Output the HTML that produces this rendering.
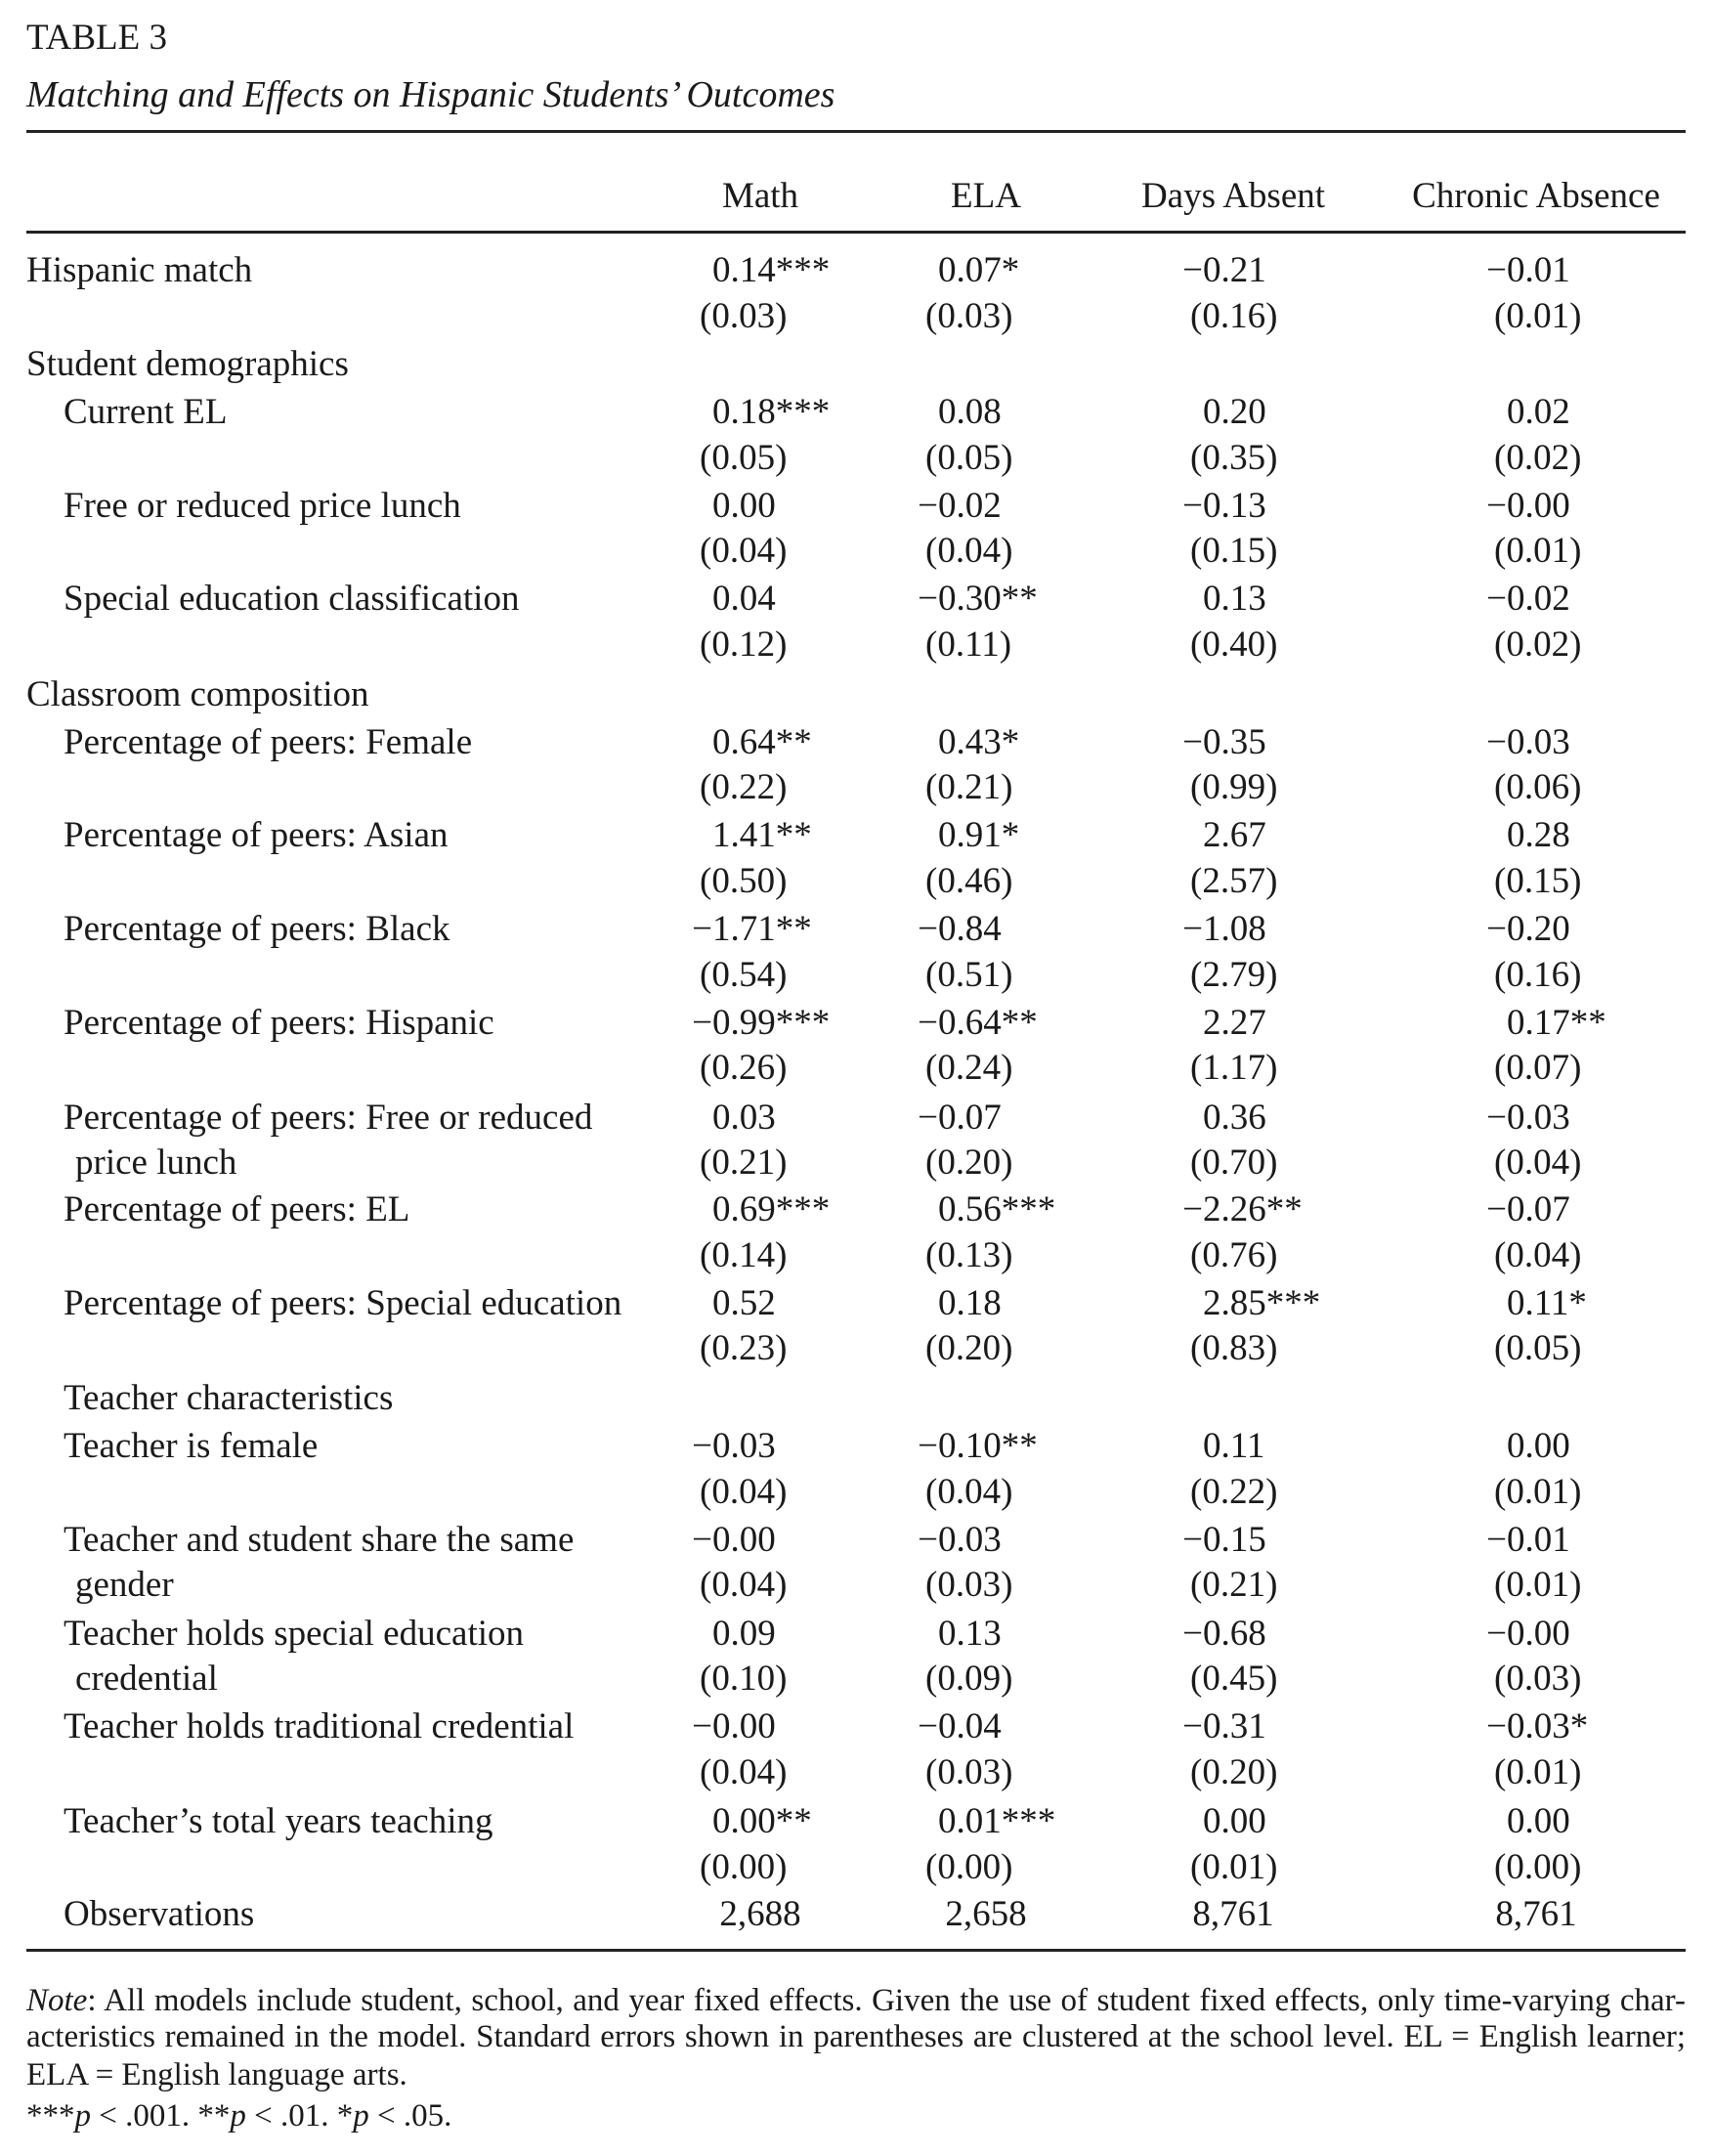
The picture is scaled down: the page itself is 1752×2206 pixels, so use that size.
<!DOCTYPE html>
<html><head><meta charset="utf-8"><style>
body{margin:0;background:#fff;}
#pg{position:relative;width:1752px;height:2206px;overflow:hidden;font-family:"Liberation Serif","Times New Roman",serif;font-size:37px;color:#1a1a1a;}
#pg div{position:absolute;line-height:48px;white-space:nowrap;}
.r{left:27px;width:1698px;height:3px;background:#222;}
.l{left:27px}.i{left:65px}.i2{left:77px}
.c1{left:729px}.c2{left:960px}.c3{left:1231px}.c4{left:1542px}
.p1{left:716px}.p2{left:947px}.p3{left:1218px}.p4{left:1529px}
.m{position:absolute;right:100%;font-style:normal}
.h{text-align:center;width:400px}
.note{left:27px;width:1698px;text-align:justify;text-align-last:justify;font-size:33px}
</style></head><body><div id="pg">
<div class="l" style="top:15px">TABLE 3</div>
<div class="l" style="top:73px;font-style:italic;font-size:38px">Matching and Effects on Hispanic Students’ Outcomes</div>
<div class="r" style="top:133px"></div>
<div class="h" style="left:578px;top:177px">Math</div>
<div class="h" style="left:809px;top:177px">ELA</div>
<div class="h" style="left:1062px;top:177px">Days Absent</div>
<div class="h" style="left:1372px;top:177px">Chronic Absence</div>
<div class="r" style="top:236px"></div>

<div class="l" style="top:253px">Hispanic match</div>
<div class="c1" style="top:253px">0.14***</div><div class="c2" style="top:253px">0.07*</div><div class="c3" style="top:253px"><i class="m">−</i>0.21</div><div class="c4" style="top:253px"><i class="m">−</i>0.01</div>
<div class="p1" style="top:300px">(0.03)</div><div class="p2" style="top:300px">(0.03)</div><div class="p3" style="top:300px">(0.16)</div><div class="p4" style="top:300px">(0.01)</div>

<div class="l" style="top:349px">Student demographics</div>

<div class="i" style="top:398px">Current EL</div>
<div class="c1" style="top:398px">0.18***</div><div class="c2" style="top:398px">0.08</div><div class="c3" style="top:398px">0.20</div><div class="c4" style="top:398px">0.02</div>
<div class="p1" style="top:445px">(0.05)</div><div class="p2" style="top:445px">(0.05)</div><div class="p3" style="top:445px">(0.35)</div><div class="p4" style="top:445px">(0.02)</div>

<div class="i" style="top:494px">Free or reduced price lunch</div>
<div class="c1" style="top:494px">0.00</div><div class="c2" style="top:494px"><i class="m">−</i>0.02</div><div class="c3" style="top:494px"><i class="m">−</i>0.13</div><div class="c4" style="top:494px"><i class="m">−</i>0.00</div>
<div class="p1" style="top:540px">(0.04)</div><div class="p2" style="top:540px">(0.04)</div><div class="p3" style="top:540px">(0.15)</div><div class="p4" style="top:540px">(0.01)</div>

<div class="i" style="top:589px">Special education classification</div>
<div class="c1" style="top:589px">0.04</div><div class="c2" style="top:589px"><i class="m">−</i>0.30**</div><div class="c3" style="top:589px">0.13</div><div class="c4" style="top:589px"><i class="m">−</i>0.02</div>
<div class="p1" style="top:636px">(0.12)</div><div class="p2" style="top:636px">(0.11)</div><div class="p3" style="top:636px">(0.40)</div><div class="p4" style="top:636px">(0.02)</div>

<div class="l" style="top:687px">Classroom composition</div>

<div class="i" style="top:736px">Percentage of peers: Female</div>
<div class="c1" style="top:736px">0.64**</div><div class="c2" style="top:736px">0.43*</div><div class="c3" style="top:736px"><i class="m">−</i>0.35</div><div class="c4" style="top:736px"><i class="m">−</i>0.03</div>
<div class="p1" style="top:782px">(0.22)</div><div class="p2" style="top:782px">(0.21)</div><div class="p3" style="top:782px">(0.99)</div><div class="p4" style="top:782px">(0.06)</div>

<div class="i" style="top:831px">Percentage of peers: Asian</div>
<div class="c1" style="top:831px">1.41**</div><div class="c2" style="top:831px">0.91*</div><div class="c3" style="top:831px">2.67</div><div class="c4" style="top:831px">0.28</div>
<div class="p1" style="top:878px">(0.50)</div><div class="p2" style="top:878px">(0.46)</div><div class="p3" style="top:878px">(2.57)</div><div class="p4" style="top:878px">(0.15)</div>

<div class="i" style="top:927px">Percentage of peers: Black</div>
<div class="c1" style="top:927px"><i class="m">−</i>1.71**</div><div class="c2" style="top:927px"><i class="m">−</i>0.84</div><div class="c3" style="top:927px"><i class="m">−</i>1.08</div><div class="c4" style="top:927px"><i class="m">−</i>0.20</div>
<div class="p1" style="top:974px">(0.54)</div><div class="p2" style="top:974px">(0.51)</div><div class="p3" style="top:974px">(2.79)</div><div class="p4" style="top:974px">(0.16)</div>

<div class="i" style="top:1023px">Percentage of peers: Hispanic</div>
<div class="c1" style="top:1023px"><i class="m">−</i>0.99***</div><div class="c2" style="top:1023px"><i class="m">−</i>0.64**</div><div class="c3" style="top:1023px">2.27</div><div class="c4" style="top:1023px">0.17**</div>
<div class="p1" style="top:1069px">(0.26)</div><div class="p2" style="top:1069px">(0.24)</div><div class="p3" style="top:1069px">(1.17)</div><div class="p4" style="top:1069px">(0.07)</div>

<div class="i" style="top:1120px">Percentage of peers: Free or reduced</div>
<div class="i2" style="top:1166px">price lunch</div>
<div class="c1" style="top:1120px">0.03</div><div class="c2" style="top:1120px"><i class="m">−</i>0.07</div><div class="c3" style="top:1120px">0.36</div><div class="c4" style="top:1120px"><i class="m">−</i>0.03</div>
<div class="p1" style="top:1166px">(0.21)</div><div class="p2" style="top:1166px">(0.20)</div><div class="p3" style="top:1166px">(0.70)</div><div class="p4" style="top:1166px">(0.04)</div>

<div class="i" style="top:1214px">Percentage of peers: EL</div>
<div class="c1" style="top:1214px">0.69***</div><div class="c2" style="top:1214px">0.56***</div><div class="c3" style="top:1214px"><i class="m">−</i>2.26**</div><div class="c4" style="top:1214px"><i class="m">−</i>0.07</div>
<div class="p1" style="top:1261px">(0.14)</div><div class="p2" style="top:1261px">(0.13)</div><div class="p3" style="top:1261px">(0.76)</div><div class="p4" style="top:1261px">(0.04)</div>

<div class="i" style="top:1310px">Percentage of peers: Special education</div>
<div class="c1" style="top:1310px">0.52</div><div class="c2" style="top:1310px">0.18</div><div class="c3" style="top:1310px">2.85***</div><div class="c4" style="top:1310px">0.11*</div>
<div class="p1" style="top:1356px">(0.23)</div><div class="p2" style="top:1356px">(0.20)</div><div class="p3" style="top:1356px">(0.83)</div><div class="p4" style="top:1356px">(0.05)</div>

<div class="i" style="top:1407px">Teacher characteristics</div>

<div class="i" style="top:1456px">Teacher is female</div>
<div class="c1" style="top:1456px"><i class="m">−</i>0.03</div><div class="c2" style="top:1456px"><i class="m">−</i>0.10**</div><div class="c3" style="top:1456px">0.11</div><div class="c4" style="top:1456px">0.00</div>
<div class="p1" style="top:1503px">(0.04)</div><div class="p2" style="top:1503px">(0.04)</div><div class="p3" style="top:1503px">(0.22)</div><div class="p4" style="top:1503px">(0.01)</div>

<div class="i" style="top:1552px">Teacher and student share the same</div>
<div class="i2" style="top:1598px">gender</div>
<div class="c1" style="top:1552px"><i class="m">−</i>0.00</div><div class="c2" style="top:1552px"><i class="m">−</i>0.03</div><div class="c3" style="top:1552px"><i class="m">−</i>0.15</div><div class="c4" style="top:1552px"><i class="m">−</i>0.01</div>
<div class="p1" style="top:1598px">(0.04)</div><div class="p2" style="top:1598px">(0.03)</div><div class="p3" style="top:1598px">(0.21)</div><div class="p4" style="top:1598px">(0.01)</div>

<div class="i" style="top:1648px">Teacher holds special education</div>
<div class="i2" style="top:1694px">credential</div>
<div class="c1" style="top:1648px">0.09</div><div class="c2" style="top:1648px">0.13</div><div class="c3" style="top:1648px"><i class="m">−</i>0.68</div><div class="c4" style="top:1648px"><i class="m">−</i>0.00</div>
<div class="p1" style="top:1694px">(0.10)</div><div class="p2" style="top:1694px">(0.09)</div><div class="p3" style="top:1694px">(0.45)</div><div class="p4" style="top:1694px">(0.03)</div>

<div class="i" style="top:1743px">Teacher holds traditional credential</div>
<div class="c1" style="top:1743px"><i class="m">−</i>0.00</div><div class="c2" style="top:1743px"><i class="m">−</i>0.04</div><div class="c3" style="top:1743px"><i class="m">−</i>0.31</div><div class="c4" style="top:1743px"><i class="m">−</i>0.03*</div>
<div class="p1" style="top:1790px">(0.04)</div><div class="p2" style="top:1790px">(0.03)</div><div class="p3" style="top:1790px">(0.20)</div><div class="p4" style="top:1790px">(0.01)</div>

<div class="i" style="top:1840px">Teacher’s total years teaching</div>
<div class="c1" style="top:1840px">0.00**</div><div class="c2" style="top:1840px">0.01***</div><div class="c3" style="top:1840px">0.00</div><div class="c4" style="top:1840px">0.00</div>
<div class="p1" style="top:1887px">(0.00)</div><div class="p2" style="top:1887px">(0.00)</div><div class="p3" style="top:1887px">(0.01)</div><div class="p4" style="top:1887px">(0.00)</div>

<div class="i" style="top:1935px">Observations</div>
<div class="h" style="left:578px;top:1935px">2,688</div>
<div class="h" style="left:809px;top:1935px">2,658</div>
<div class="h" style="left:1062px;top:1935px">8,761</div>
<div class="h" style="left:1372px;top:1935px">8,761</div>

<div class="r" style="top:1994px"></div>

<div class="note" style="top:2023px"><i>Note</i>: All models include student, school, and year fixed effects. Given the use of student fixed effects, only time-varying char-</div>
<div class="note" style="top:2060px">acteristics remained in the model. Standard errors shown in parentheses are clustered at the school level. EL = English learner;</div>
<div class="l" style="top:2099px;font-size:33px">ELA = English language arts.</div>
<div class="l" style="top:2141px;font-size:33px">***<i>p</i> &lt; .001. **<i>p</i> &lt; .01. *<i>p</i> &lt; .05.</div>
</div></body></html>
